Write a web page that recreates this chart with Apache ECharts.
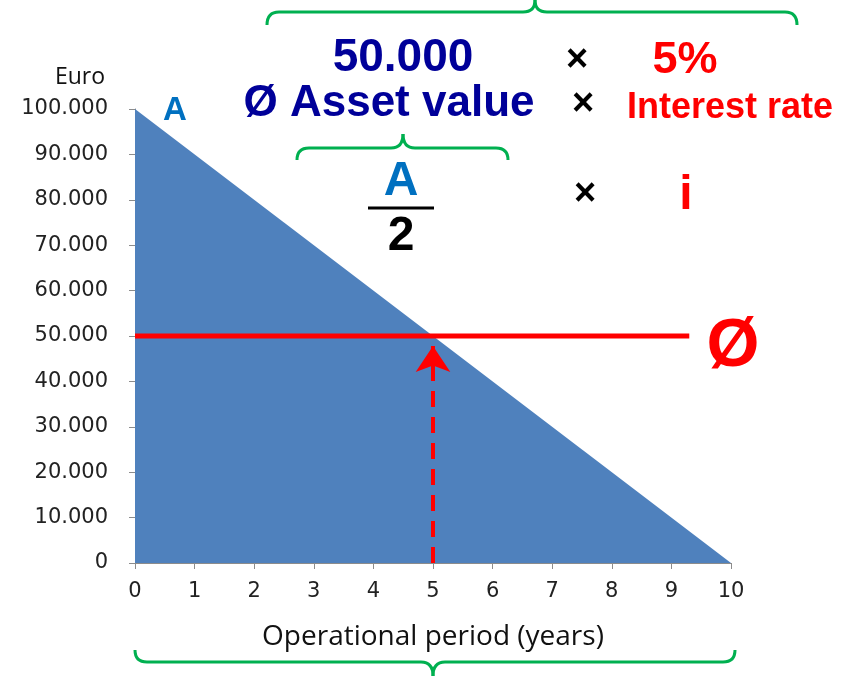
<!DOCTYPE html>
<html>
<head>
<meta charset="utf-8">
<script src="https://cdn.jsdelivr.net/npm/echarts@6/dist/echarts.min.js"></script>
<style>
  html, body { margin: 0; padding: 0; background: #fff; }
  #chart { width: 844px; height: 679px; }
</style>
</head>
<body>
<div id="chart"></div>
<script>
// asset value decreasing linearly over the operational period
var years = [0, 1, 2, 3, 4, 5, 6, 7, 8, 9, 10];
var assetValue = [[0, 100000], [10, 0]];
var avgLine = [[0, 50000], [9.3, 50000]];
var arrowFrom = [5, 0];
var arrowTo = [5, 47800];

var chart = echarts.init(document.getElementById('chart'));

function fmt(v) {
    // 100000 -> 100.000
    return String(v).replace(/\B(?=(\d{3})+(?!\d))/g, '.');
}

var boldFont = '"Liberation Sans", Arial, sans-serif';
var braceStyle = { stroke: '#00B050', fill: 'none', lineWidth: 3 };

function txt(x, y, s, size, color) {
    return {
        type: 'text', x: x, y: y, z: 100,
        style: {
            text: s, fill: color, font: 'bold ' + size + 'px ' + boldFont,
            align: 'center', verticalAlign: 'middle'
        }
    };
}

// curly brace: x1..x2, ends at yEnd, bar at yBar, tip at yTip (tip at middle xm)
function brace(x1, x2, xm, yEnd, yBar, yTip) {
    var r = 12;
    var q = function (ax, ay, cx, cy, bx, by) {
        return { type: 'bezierCurve', z: 100, silent: true,
            shape: { x1: ax, y1: ay, cpx1: cx, cpy1: cy, x2: bx, y2: by }, style: braceStyle };
    };
    var l = function (ax, ay, bx, by) {
        return { type: 'line', z: 100, silent: true,
            shape: { x1: ax, y1: ay, x2: bx, y2: by }, style: braceStyle };
    };
    return [
        q(x1, yEnd, x1, yBar, x1 + r, yBar),
        l(x1 + r, yBar, xm - r, yBar),
        q(xm - r, yBar, xm, yBar, xm, yTip),
        q(xm, yTip, xm, yBar, xm + r, yBar),
        l(xm + r, yBar, x2 - r, yBar),
        q(x2 - r, yBar, x2, yBar, x2, yEnd)
    ];
}

var elems = [].concat(
    brace(267, 797, 535, 25, 12, 0),
    brace(297, 508, 403, 160, 148, 134),
    brace(135, 735, 433, 650, 662, 676),
    [
        txt(403, 58, '50.000', 46, '#000099'),
        txt(389, 104, 'Ø Asset value', 44, '#000099'),
        txt(577, 61, '×', 38, '#000'),
        txt(583, 105, '×', 38, '#000'),
        txt(585, 195, '×', 38, '#000'),
        txt(685, 61, '5%', 45, '#FF0000'),
        txt(730, 108, 'Interest rate', 36, '#FF0000'),
        txt(401, 182, 'A', 48, '#0070C0'),
        {
            type: 'line', z: 100,
            shape: { x1: 368, y1: 208, x2: 434, y2: 208 },
            style: { stroke: '#000', lineWidth: 3 }
        },
        txt(401, 237, '2', 48, '#000'),
        txt(686, 196, 'i', 48, '#FF0000'),
        txt(175, 111, 'A', 33, '#0070C0'),
        txt(733, 347, 'Ø', 68, '#FF0000')
    ]
);

var option = {
    animation: false,
    grid: { left: 135, right: 113, top: 109, bottom: 116 },
    xAxis: {
        type: 'value', min: 0, max: 10, interval: 1,
        name: 'Operational period (years)',
        nameLocation: 'middle', nameGap: 60,
        nameTextStyle: { fontSize: 28, color: '#111', fontFamily: '"Open Sans", sans-serif' },
        axisLine: { lineStyle: { color: '#8c8c8c', width: 1 } },
        axisTick: { show: true, length: 6, lineStyle: { color: '#8c8c8c' } },
        axisLabel: { fontSize: 21, color: '#222', fontFamily: '"DejaVu Sans", sans-serif', margin: 18 },
        splitLine: { show: false }
    },
    yAxis: {
        type: 'value', min: 0, max: 100000, interval: 10000,
        name: 'Euro', nameLocation: 'end', nameGap: 20,
        nameTextStyle: { fontSize: 23, color: '#111', fontFamily: '"Open Sans", sans-serif', align: 'right', padding: [0, 30, 0, 0] },
        axisLine: { show: true, lineStyle: { color: '#8c8c8c', width: 1 } },
        axisTick: { show: true, length: 6, lineStyle: { color: '#8c8c8c' } },
        axisLabel: { fontSize: 21, color: '#222', fontFamily: '"DejaVu Sans", sans-serif', margin: 27, formatter: fmt },
        splitLine: { show: false }
    },
    series: [
        {
            type: 'line', data: assetValue, symbol: 'none',
            lineStyle: { width: 0, color: '#4F81BD' },
            areaStyle: { color: '#4F81BD', opacity: 1 },
            z: 2
        },
        {
            type: 'line', data: avgLine, symbol: 'none',
            lineStyle: { width: 5, color: '#FF0000' },
            z: 4,
            markLine: {
                silent: true,
                symbol: ['none', 'arrow'],
                symbolSize: 26,
                label: { show: false },
                lineStyle: { color: '#FF0000', width: 4, type: [16, 10] },
                data: [[{ coord: arrowFrom }, { coord: arrowTo }]]
            }
        }
    ],
    graphic: elems
};

chart.setOption(option);
</script>
</body>
</html>
